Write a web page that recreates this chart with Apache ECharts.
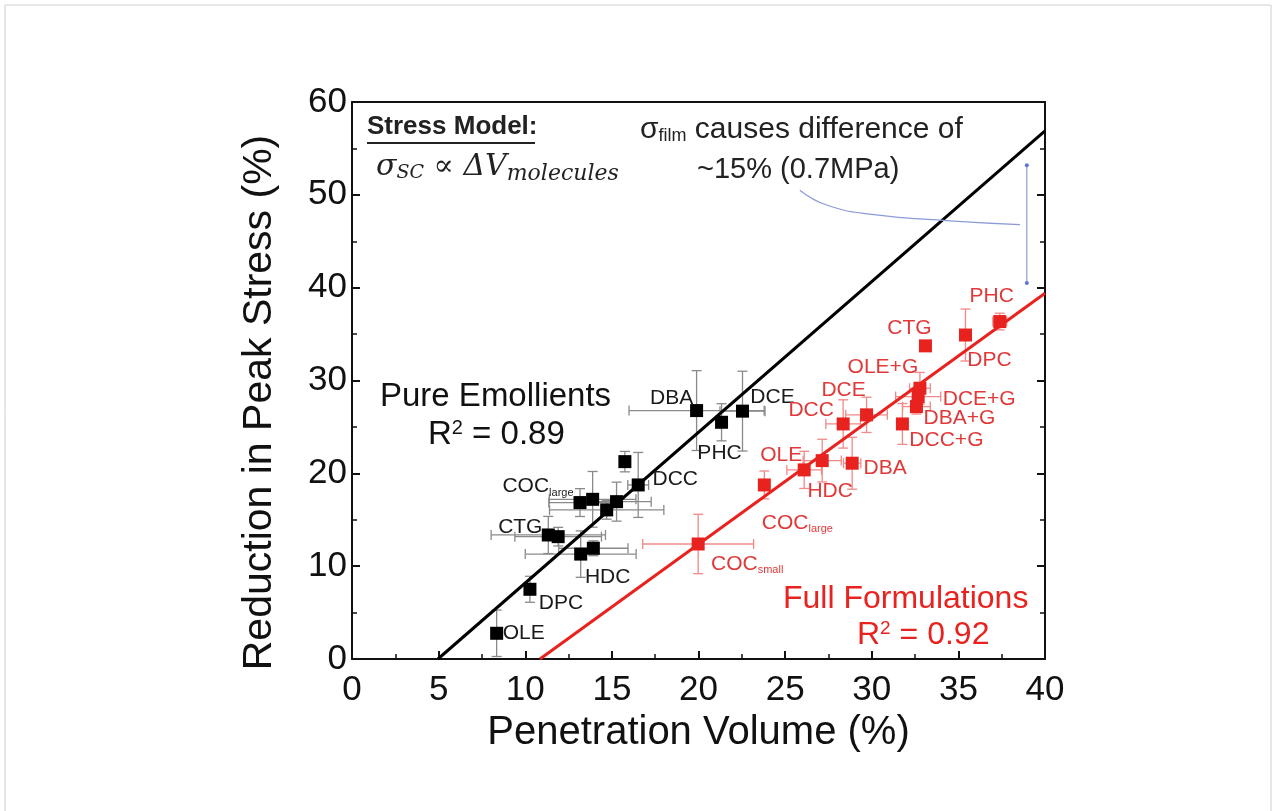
<!DOCTYPE html>
<html>
<head>
<meta charset="utf-8">
<script src="https://cdn.jsdelivr.net/npm/echarts@6/dist/echarts.min.js"></script>
<style>
html,body{margin:0;padding:0;background:#fff;}
#c{width:1277px;height:811px;}
</style>
</head>
<body>
<div id="c"></div>
<script>
// ---- Data: Pure Emollients (black) ----
const blackNames = ['OLE','DPC','HDC','','CTG','','COC_large','','','','','DCC','DBA','PHC','DCE'];
const blackX     = [8.35, 10.27, 13.20, 13.93, 11.33, 11.90, 13.16, 13.89, 14.70, 15.27, 15.75, 16.52, 19.89, 21.33, 22.54];
const blackY     = [2.77, 7.51, 11.30, 11.93, 13.36, 13.18, 16.85, 17.20, 16.06, 16.95, 21.26, 18.75, 26.76, 25.50, 26.70];
const blackXErr  = [0, 0, 3.2, 2.0, 3.3, 2.5, 1.8, 2.5, 3.3, 2.0, 0.3, 0.6, 3.9, 0, 1.3];
const blackYErr  = [2.5, 1.4, 2.5, 0.8, 2.0, 1.0, 1.5, 3.0, 1.0, 2.1, 1.1, 3.5, 4.3, 2.0, 4.3];

// ---- Data: Full Formulations (red) ----
const redNames = ['COC_small','COC_large','OLE','HDC','DBA','DCC','DCE','DCC+G','DBA+G','DCE+G','OLE+G','CTG','DPC','PHC'];
const redX     = [19.98, 23.80, 26.10, 27.14, 28.87, 28.35, 29.70, 31.77, 32.58, 32.68, 32.78, 33.10, 35.41, 37.39];
const redY     = [12.39, 18.75, 20.37, 21.37, 21.09, 25.32, 26.30, 25.32, 27.19, 28.27, 29.17, 33.73, 34.90, 36.35];
const redXErr  = [3.2, 0, 1.0, 1.1, 0.5, 1.0, 1.2, 0, 0.8, 1.3, 0.6, 0, 0, 0.4];
const redYErr  = [3.2, 1.5, 2.0, 2.3, 2.8, 2.6, 1.9, 2.2, 0.8, 0.8, 1.7, 0, 2.8, 0.9];

// ---- Fit lines (endpoints) ----
const fitBlack = [[4.96, 0], [40, 56.9]];
const fitRed   = [[10.85, 0], [40, 39.4]];

// ---- Annotation (blue bracket + leader curve) ----
const bracketPts = [[38.95, 53.2], [38.95, 40.5]];
const leaderPts  = [[25.85, 50.5], [27.4, 48.9], [30.0, 47.9], [34.5, 47.2], [38.55, 46.8]];

// ---- Label placement (style only) ----
const blackLabelOffsets = {
  'OLE':[27,0], 'DPC':[31,14], 'HDC':[27,23], 'CTG':[-28,-8], 'COC_large':[-42,-16],
  'DCC':[37,-6], 'DBA':[-25,-12], 'DCE':[30,-14], 'PHC':[-2,31]
};
const redLabelOffsets = {
  'PHC':[-8,-25], 'CTG':[-16,-18], 'DPC':[24,25], 'OLE+G':[-37,-21], 'DCE+G':[61,3],
  'DBA+G':[43,12], 'DCC+G':[44,16], 'DCE':[-23,-25], 'DCC':[-32,-14], 'OLE':[-23,-15],
  'DBA':[33,5], 'HDC':[8,31], 'COC_large':[33,38], 'COC_small':[49,20]
};

const FONT = '"Liberation Sans", Arial, Helvetica, sans-serif';
const RED = '#e8231f';
const RED_TXT = '#e0393a';

function fmtName(n){
  if(!n) return '';
  const i = n.indexOf('_');
  if(i>0) return '{a|'+n.slice(0,i)+'}{s|'+n.slice(i+1)+'}';
  return '{a|'+n+'}';
}

function buildScatter(names,xs,ys,offs,color){
  return xs.map((x,i)=>{
    const o = offs[names[i]];
    const item = {value:[x,ys[i]], name:names[i]};
    if(o){
      item.label = {show:true, position:'inside', offset:o, formatter:fmtName(names[i]),
        rich:{a:{fontSize:21,color:color,fontFamily:FONT},
              s:{fontSize:11,color:color,fontFamily:FONT,padding:[12,0,0,0]}}};
    }
    return item;
  });
}
function buildErr(xs,ys,ex,ey){ return xs.map((x,i)=>[x,ys[i],ex[i],ey[i]]); }

function errRender(color){
  return function(params, api){
    const x=api.value(0), y=api.value(1), ex=api.value(2), ey=api.value(3);
    const cap=5, ch=[];
    const st={stroke:color,lineWidth:1.3};
    if(ex>0){
      const l=api.coord([x-ex,y]), r=api.coord([x+ex,y]);
      ch.push({type:'line',shape:{x1:l[0],y1:l[1],x2:r[0],y2:r[1]},style:st});
      ch.push({type:'line',shape:{x1:l[0],y1:l[1]-cap,x2:l[0],y2:l[1]+cap},style:st});
      ch.push({type:'line',shape:{x1:r[0],y1:r[1]-cap,x2:r[0],y2:r[1]+cap},style:st});
    }
    if(ey>0){
      const t=api.coord([x,y+ey]), b=api.coord([x,Math.max(0,y-ey)]);
      ch.push({type:'line',shape:{x1:t[0],y1:t[1],x2:b[0],y2:b[1]},style:st});
      ch.push({type:'line',shape:{x1:t[0]-cap,y1:t[1],x2:t[0]+cap,y2:t[1]},style:st});
      if(y-ey>0) ch.push({type:'line',shape:{x1:b[0]-cap,y1:b[1],x2:b[0]+cap,y2:b[1]},style:st});
    }
    return {type:'group',children:ch};
  };
}

const chart = echarts.init(document.getElementById('c'), null, {renderer:'canvas'});
const axisLineStyle = {color:'#111', width:2};
chart.setOption({
  animation:false,
  backgroundColor:'#fff',
  grid:{left:352, top:102, width:693, height:557},
  xAxis:[{
    type:'value', min:0, max:40, interval:5, position:'bottom',
    axisLine:{show:true, onZero:false, lineStyle:axisLineStyle},
    axisTick:{show:true, inside:true, length:8, lineStyle:{color:'#111',width:2}},
    minorTick:{show:true, splitNumber:2, length:5, lineStyle:{color:'#111',width:1.5}},
    splitLine:{show:false},
    axisLabel:{fontSize:35, color:'#111', fontFamily:FONT, margin:14},
    name:'Penetration Volume (%)', nameLocation:'middle', nameGap:52,
    nameTextStyle:{fontSize:40, color:'#111', fontFamily:FONT}
  },{
    type:'value', min:0, max:40, position:'top',
    axisLine:{show:true, onZero:false, lineStyle:axisLineStyle},
    axisTick:{show:false}, axisLabel:{show:false}, splitLine:{show:false}
  }],
  yAxis:[{
    type:'value', min:0, max:60, interval:10, position:'left',
    axisLine:{show:true, onZero:false, lineStyle:axisLineStyle},
    axisTick:{show:true, inside:true, length:8, lineStyle:{color:'#111',width:2}},
    minorTick:{show:true, splitNumber:2, length:5, lineStyle:{color:'#111',width:1.5}},
    splitLine:{show:false},
    axisLabel:{fontSize:35, color:'#111', fontFamily:FONT, margin:5},
    name:'Reduction in Peak Stress (%)', nameLocation:'middle', nameGap:72,
    nameTextStyle:{fontSize:41, color:'#111', fontFamily:FONT, padding:[0,44,0,0]}
  },{
    type:'value', min:0, max:60, interval:10, position:'right',
    axisLine:{show:true, onZero:false, lineStyle:axisLineStyle},
    axisTick:{show:true, inside:true, length:8, lineStyle:{color:'#111',width:2}},
    minorTick:{show:true, splitNumber:2, length:5, lineStyle:{color:'#111',width:1.5}},
    axisLabel:{show:false}, splitLine:{show:false}
  }],
  series:[
    {type:'custom', renderItem:errRender('#8a8a8a'), data:buildErr(blackX,blackY,blackXErr,blackYErr), z:1, silent:true},
    {type:'custom', renderItem:errRender('#ef8a88'), data:buildErr(redX,redY,redXErr,redYErr), z:1, silent:true},
    {type:'line', data:fitBlack, showSymbol:false, lineStyle:{color:'#000',width:3}, z:2, silent:true},
    {type:'line', data:fitRed, showSymbol:false, lineStyle:{color:RED,width:3}, z:2, silent:true},
    {type:'line', data:leaderPts, smooth:true, showSymbol:false, lineStyle:{color:'#8c9bd6',width:1.2}, z:2, silent:true},
    {type:'line', data:bracketPts, symbol:'circle', symbolSize:4, itemStyle:{color:'#5b76d6'}, lineStyle:{color:'#8c9bd6',width:1.2}, z:2, silent:true},
    {type:'scatter', symbol:'rect', symbolSize:13, itemStyle:{color:'#000', opacity:1}, data:buildScatter(blackNames,blackX,blackY,blackLabelOffsets,'#1a1a1a'), z:3},
    {type:'scatter', symbol:'rect', symbolSize:13, itemStyle:{color:RED, opacity:1}, data:buildScatter(redNames,redX,redY,redLabelOffsets,RED_TXT), z:3}
  ],
  graphic:[
    {type:'rect', shape:{x:5,y:5,width:1266,height:830}, style:{fill:'none',stroke:'#cfcfcf',lineWidth:1}, z:0},
    {type:'text', left:367, top:114, style:{text:'Stress Model:', font:'bold 26px '+FONT, fill:'#222'}, z:10},
    {type:'line', shape:{x1:367,y1:143,x2:535,y2:143}, style:{stroke:'#222',lineWidth:2}, z:10},
    {type:'text', left:376, top:152, style:{
      text:'{m|σ}{sub|SC}{n| ∝ ΔV}{sub2|molecules}',
      rich:{
        m:{fontSize:30, fontStyle:'italic', fontFamily:'"DejaVu Serif", serif', fill:'#222'},
        sub:{fontSize:19, fontStyle:'italic', fontFamily:'"DejaVu Serif", serif', fill:'#222', padding:[12,0,0,0]},
        n:{fontSize:30, fontStyle:'italic', fontFamily:'"DejaVu Serif", serif', fill:'#222'},
        sub2:{fontSize:22, fontStyle:'italic', fontFamily:'"DejaVu Serif", serif', fill:'#222', padding:[14,0,0,0]}
      }}, z:10},
    {type:'text', left:640, top:115, style:{
      text:'{a|σ}{s|film}{a| causes difference of}',
      rich:{a:{fontSize:30, fontFamily:FONT, fill:'#222'}, s:{fontSize:18, fontFamily:FONT, fill:'#222', padding:[12,0,0,0]}}
    }, z:10},
    {type:'text', left:697, top:155, style:{text:'~15% (0.7MPa)', font:'29px '+FONT, fill:'#222'}, z:10},
    {type:'text', left:380, top:380, style:{text:'Pure Emollients', font:'33px '+FONT, fill:'#111'}, z:10},
    {type:'text', left:428, top:418, style:{text:'{a|R}{s|2}{a| = 0.89}', rich:{a:{fontSize:33,fontFamily:FONT,fill:'#111'}, s:{fontSize:20,fontFamily:FONT,fill:'#111',padding:[0,0,14,0]}}}, z:10},
    {type:'text', left:783, top:583, style:{text:'Full Formulations', font:'32px '+FONT, fill:RED}, z:10},
    {type:'text', left:857, top:619, style:{text:'{a|R}{s|2}{a| = 0.92}', rich:{a:{fontSize:32,fontFamily:FONT,fill:RED}, s:{fontSize:19,fontFamily:FONT,fill:RED,padding:[0,0,14,0]}}}, z:10}
  ]
});
</script>
</body>
</html>
